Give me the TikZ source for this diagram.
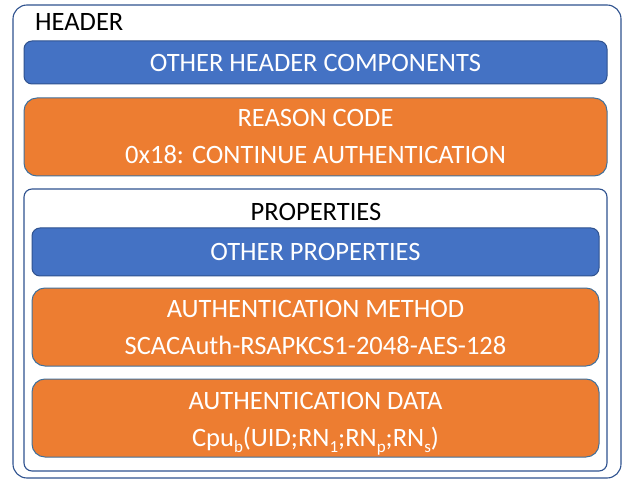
\documentclass[tikz,border=0pt]{standalone}
\usepackage{fontspec}
\setmainfont{Carlito}
\definecolor{oblue}{HTML}{4472C4}
\definecolor{oorange}{HTML}{ED7D31}
\definecolor{oline}{HTML}{2F528F}
\definecolor{oline2}{HTML}{41719C}
\newcommand{\mysub}[1]{\smash{\raisebox{-0.22em}{\fontsize{17}{17}\selectfont #1}}}
\tikzset{
  frame/.style={draw=oline, line width=1.1pt, rounded corners=14pt, fill=white},
  bluebox/.style={draw=oline, line width=1pt, fill=oblue, rounded corners=8pt, text=white},
  orangebox/.style={draw=oline2, line width=1pt, fill=oorange, rounded corners=13pt, text=white},
  lbl/.style={font=\fontsize{26.5}{37}\selectfont, align=center, inner sep=0pt},
  blk/.style={lbl, text=black}
}
\begin{document}
\begin{tikzpicture}[x=1pt, y=-1pt]
\useasboundingbox (0,0) rectangle (624,481);
\node[frame, minimum width=608pt, minimum height=473pt] (outer) at (317,241.5) {};
\node[blk, anchor=west] (hdr) at (35,22) {HEADER};
\node[bluebox, minimum width=583pt, minimum height=43pt] (ohc) at (315.5,62.5) {};
\node[lbl, text=white] (ohct) at (ohc) {OTHER HEADER COMPONENTS};
\node[orangebox, minimum width=583pt, minimum height=78pt] (rc) at (315.5,137) {};
\node[lbl, text=white] (rct) at (rc) {REASON CODE\\0x18: CONTINUE AUTHENTICATION};
\node[frame, rounded corners=8pt, minimum width=583pt, minimum height=282pt] (props) at (315.5,330) {};
\node[blk] (propst) at (316,212) {PROPERTIES};
\node[bluebox, minimum width=567pt, minimum height=48pt] (op) at (315.5,252) {};
\node[lbl, text=white] (opt) at (op) {OTHER PROPERTIES};
\node[orangebox, minimum width=567pt, minimum height=78pt] (am) at (315.5,327) {};
\node[lbl, text=white] (amt) at (am) {AUTHENTICATION METHOD\\SCACAuth-RSAPKCS1-2048-AES-128};
\node[orangebox, minimum width=567pt, minimum height=78pt] (ad) at (315.5,418) {};
\node[lbl, text=white] (adt) at ([yshift=-3.5pt]ad.center) {AUTHENTICATION DATA\\Cpu\mysub{b}(UID;RN\mysub{1};RN\mysub{p};RN\mysub{s})};
\end{tikzpicture}
\end{document}
